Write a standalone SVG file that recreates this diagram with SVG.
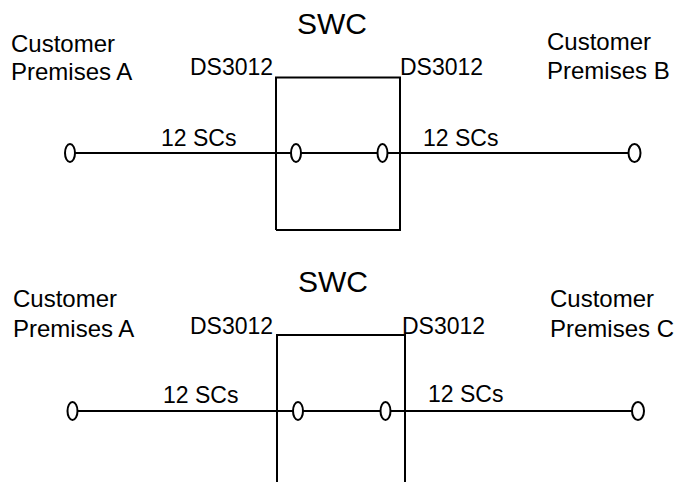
<svg xmlns="http://www.w3.org/2000/svg" width="675" height="482" viewBox="0 0 675 482">
<style>
text{font-family:"Liberation Sans",Arial,sans-serif;fill:#000}
.c{font-size:24px}
.t{font-size:23px}
.s{font-size:30px}
.ln{stroke:#000;stroke-width:2;fill:none}
.e{stroke:#000;stroke-width:2;fill:#fff}
</style>
<rect width="675" height="482" fill="#fff"/>
<g id="top">
<g id="swc1"><polyline class="ln" points="276,230 276,77.5 400,77.5 400,230 276,230"/><text class="s" x="297" y="34">SWC</text></g>
<g id="labels1">
<text class="c" x="11" y="52">Customer</text>
<text class="c" x="11" y="80">Premises A</text>
<text class="t" x="190" y="74.5">DS3012</text>
<text class="t" x="400" y="74.5">DS3012</text>
<text class="c" x="547" y="50">Customer</text>
<text class="c" x="547" y="78.5">Premises B</text>
<text class="t" x="161" y="146">12 SCs</text>
<text class="t" x="423" y="146">12 SCs</text>
</g>
<g id="connectors1">
<line class="ln" x1="75" y1="153" x2="291" y2="153"/>
<line class="ln" x1="301" y1="153" x2="377" y2="153"/>
<line class="ln" x1="388" y1="153" x2="629" y2="153"/>
</g>
<g id="ports1">
<ellipse class="e" cx="70" cy="153" rx="5" ry="9"/>
<ellipse class="e" cx="296" cy="153" rx="5" ry="9"/>
<ellipse class="e" cx="382.5" cy="153" rx="5" ry="9"/>
<ellipse class="e" cx="634.5" cy="153" rx="6" ry="9"/>
</g>
</g>
<g id="bottom">
<g id="swc2"><polyline class="ln" points="277,482 277,335 405,335 405,482"/><text class="s" x="298" y="292">SWC</text></g>
<g id="labels2">
<text class="c" x="13" y="307">Customer</text>
<text class="c" x="13" y="337">Premises A</text>
<text class="t" x="190" y="333.5">DS3012</text>
<text class="t" x="402" y="333.5">DS3012</text>
<text class="c" x="550" y="307">Customer</text>
<text class="c" x="550" y="337">Premises C</text>
<text class="t" x="163" y="402.5">12 SCs</text>
<text class="t" x="428" y="402">12 SCs</text>
</g>
<g id="connectors2">
<line class="ln" x1="78" y1="411" x2="293" y2="411"/>
<line class="ln" x1="303" y1="411" x2="380" y2="411"/>
<line class="ln" x1="391" y1="411" x2="632" y2="411"/>
</g>
<g id="ports2">
<ellipse class="e" cx="72.5" cy="411" rx="5" ry="9"/>
<ellipse class="e" cx="298" cy="411" rx="5" ry="9"/>
<ellipse class="e" cx="385.5" cy="411" rx="5" ry="9"/>
<ellipse class="e" cx="638" cy="411" rx="6" ry="9"/>
</g>
</g>
</svg>
